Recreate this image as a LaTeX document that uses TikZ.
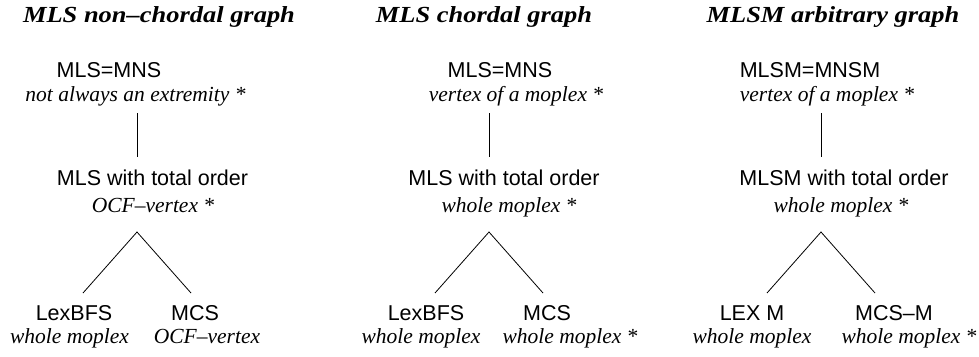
\documentclass[tikz,border=0pt]{standalone}
\usepackage{fontspec}
\setmainfont{Liberation Serif}
\setsansfont{Liberation Sans}
\newfontfamily\titlefont[FakeStretch=1.15,Ligatures=TeX]{Liberation Serif}
\usetikzlibrary{positioning}
\newcommand{\treelines}[1]{\coordinate (#1top) at (0,113);
					\coordinate (#1bot) at (0,157);
					\coordinate (#1apex) at (0,232);
					\coordinate (#1l) at (-54,293);
					\coordinate (#1r) at (54,293);
					\draw (#1top) -- (#1bot);
					\draw (#1l) -- (#1apex) -- (#1r);}
\tikzset{algo/.style={anchor=base,inner sep=0pt,font=\sffamily\fontsize{21.5}{24}\selectfont},
	prop/.style={anchor=base,inner sep=0pt,font=\itshape\fontsize{21.5}{24}\selectfont},
	heading/.style={anchor=base,inner sep=0pt,font=\titlefont\bfseries\itshape\fontsize{23}{26}\selectfont}}

\begin{document}
\begin{tikzpicture}[x=1pt,y=-1pt,line width=0.8pt]
					\useasboundingbox (0,0) rectangle (979,356);

					\begin{scope}[xshift = 137pt]
						\treelines{t1}
						\node[heading] (t1head) at (22,23) {MLS non--chordal graph};
						\node[algo] (t1root) at (-28,77) {MLS=MNS};
						\node[prop] (t1rootp) at (-1.5,101) {not always an extremity *};
						\node[algo] (t1mid) at (15.5,185) {MLS with total order};
						\node[prop] (t1midp) at (16,212) {OCF--vertex *};
						\node[algo] (t1left) at (-63,320) {LexBFS};
						\node[prop] (t1leftp) at (-67.5,343) {whole moplex};
						\node[algo] (t1right) at (58,320) {MCS};
						\node[prop] (t1rightp) at (70,343) {OCF--vertex};
					\end{scope}

					\begin{scope}[xshift = 489pt]
						\treelines{t2}
						\node[heading] (t2head) at (-5,23) {MLS chordal graph};
						\node[algo] (t2root) at (11,77) {MLS=MNS};
						\node[prop] (t2rootp) at (27,101) {vertex of a moplex *};
						\node[algo] (t2mid) at (15,185) {MLS with total order};
						\node[prop] (t2midp) at (20,212) {whole moplex *};
						\node[algo] (t2left) at (-63,320) {LexBFS};
						\node[prop] (t2leftp) at (-68,343) {whole moplex};
						\node[algo] (t2right) at (58,320) {MCS};
						\node[prop] (t2rightp) at (81,343) {whole moplex *};
					\end{scope}

					\begin{scope}[xshift = 821pt]
						\treelines{t3}
						\node[heading] (t3head) at (12,23) {MLSM arbitrary graph};
						\node[algo] (t3root) at (-11,77) {MLSM=MNSM};
						\node[prop] (t3rootp) at (6,101) {vertex of a moplex *};
						\node[algo] (t3mid) at (23,185) {MLSM with total order};
						\node[prop] (t3midp) at (20,212) {whole moplex *};
						\node[algo] (t3left) at (-69,320) {LEX M};
						\node[prop] (t3leftp) at (-69,343) {whole moplex};
						\node[algo] (t3right) at (73,320) {MCS--M};
						\node[prop] (t3rightp) at (88,343) {whole moplex *};
					\end{scope}

				\end{tikzpicture}
\end{document}
